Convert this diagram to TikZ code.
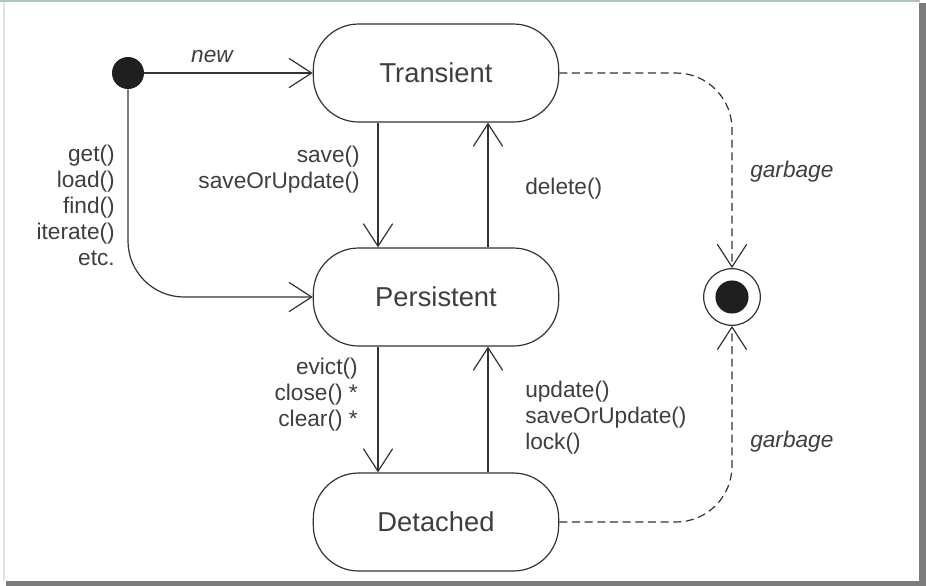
\documentclass[tikz,border=0pt]{standalone}
\usepackage{fontspec}
\setmainfont{Liberation Sans}
\usetikzlibrary{arrows.meta}
\definecolor{lineink}{HTML}{333333}
\definecolor{textink}{HTML}{3E3E3E}
\definecolor{framegrey}{HTML}{AFC3C3}
\definecolor{edgelight}{HTML}{E2E2E2}
\definecolor{shadowgrey}{HTML}{7C7C7C}
\tikzset{
  statebox/.style={
    draw=lineink, fill=white, rounded corners=34pt, line width=0.9pt,
    minimum width=184pt, minimum height=73.5pt, text=textink,
    font=\fontsize{20.5}{24}\selectfont,
  },
  initdot/.style ={circle, fill=black!88, minimum size=24pt, inner sep=0pt},
  finaldot/.style={circle, draw=lineink, line width=0.9pt, minimum size=42.5pt,
                   inner sep=0pt,
                   path picture={\fill[black!88] (path picture bounding box.center)
                                 circle (12.4pt);}},
  trans/.style={-{Straight Barb[length=17pt, width=22pt]}, draw=lineink,
                line width=0.9pt},
  gcflow/.style={trans, dash pattern=on 6pt off 3.5pt},
  call/.style ={font=\fontsize{17}{19.5}\selectfont, text=textink, inner sep=0pt},
  callit/.style={call, font=\fontsize{17}{19.5}\selectfont\itshape},
}

\begin{document}
\begin{tikzpicture}[x=0.75pt, y=-0.75pt]
\useasboundingbox (0,0) rectangle (926,586);

% ============================================ frame with its drop shadow
\draw[framegrey, line width=1.5pt] (0,1) -- (920,1);
\draw[edgelight, line width=1.2pt] (4,2) -- (4,581);
\fill[shadowgrey] (919,3) rectangle (926,586);
\fill[shadowgrey] (6,581) rectangle (926,586);

% ============================================ states
\node[initdot]  (init)       at (128,73)  {};
\node[statebox] (transient)  at (436,73)  {Transient};
\node[statebox] (persistent) at (436,297) {Persistent};
\node[statebox] (detached)   at (436,522) {Detached};
\node[finaldot] (final)      at (732,297) {};

% ============================================ transitions
\draw[trans] (init) -- (transient);
\draw[trans, rounded corners=42pt] (init) |- (persistent);

\draw[trans] ([xshift=-43.5pt]transient.south) -- ([xshift=-43.5pt]persistent.north);
\draw[trans] ([xshift=39pt]persistent.north) -- ([xshift=39pt]transient.south);
\draw[trans] ([xshift=-43.5pt]persistent.south) -- ([xshift=-43.5pt]detached.north);
\draw[trans] ([xshift=39pt]detached.north) -- ([xshift=39pt]persistent.south);

% both garbage paths end in the same final state
\draw[gcflow, rounded corners=42pt] (transient) -| (final);
\draw[gcflow, rounded corners=42pt] (detached) -| (final);

% ============================================ labels
\node[callit] (lnew) at (212,57) {new};
\node[call, align=right, anchor=east] (lfetch) at (115,205)
  {get()\\load()\\find()\\iterate()\\etc.};
\node[call, align=right, anchor=east] (lsave) at (360,170)
  {save()\\saveOrUpdate()};
\node[call, anchor=west] (ldelete) at (525,189) {delete()};
\node[call, align=right, anchor=east] (levict) at (358,395)
  {evict()\\close() *\\clear() *};
\node[call, align=left, anchor=west] (lreattach) at (525,418)
  {update()\\saveOrUpdate()\\lock()};
\node[callit, anchor=west] (lgctop) at (750,172) {garbage};
\node[callit, anchor=west] (lgcbot) at (750,442) {garbage};

\end{tikzpicture}
\end{document}
